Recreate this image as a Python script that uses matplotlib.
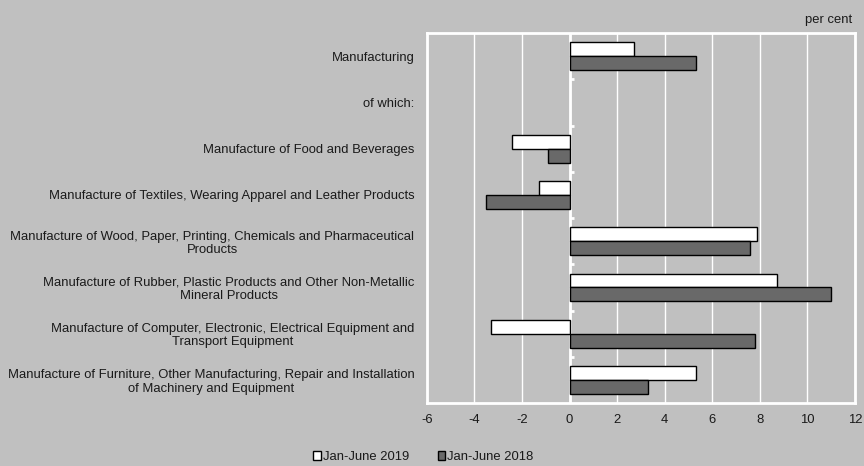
import matplotlib
matplotlib.use("Agg")
import matplotlib.pyplot as plt
import numpy as np
from matplotlib.patches import Patch

categories = [
    "Manufacturing",
    "of which:",
    "Manufacture of Food and Beverages",
    "Manufacture of Textiles, Wearing Apparel and Leather Products",
    "Manufacture of Wood, Paper, Printing, Chemicals and Pharmaceutical\nProducts",
    "Manufacture of Rubber, Plastic Products and Other Non-Metallic\nMineral Products",
    "Manufacture of Computer, Electronic, Electrical Equipment and\nTransport Equipment",
    "Manufacture of Furniture, Other Manufacturing, Repair and Installation\nof Machinery and Equipment",
]
jan_june_2019 = [2.7, np.nan, -2.4, -1.3, 7.9, 8.7, -3.3, 5.3]
jan_june_2018 = [5.3, np.nan, -0.9, -3.5, 7.6, 11.0, 7.8, 3.3]
xticks = [-6, -4, -2, 0, 2, 4, 6, 8, 10, 12]

plt.rcParams['font.family'] = ['Liberation Sans', 'DejaVu Sans']
plt.rcParams['axes.unicode_minus'] = False

BG = '#c0c0c0'
TXT = '#1a1a1a'
FS = 9.4
fig = plt.figure(figsize=(8.64, 4.66), dpi=100, facecolor=BG)
ax = fig.add_axes([0.494, 0.135, 0.4956, 0.794])
ax.set_facecolor(BG)

y = np.arange(len(categories))
h = 0.3
ax.barh(y - h / 2, jan_june_2019, height=h, color='white', edgecolor='black', linewidth=1.0, zorder=3, label='Jan-June 2019')
ax.barh(y + h / 2, jan_june_2018, height=h, color='#696969', edgecolor='black', linewidth=1.0, zorder=3, label='Jan-June 2018')

ax.set_xlim(-6, 12)
ax.set_ylim(len(categories) - 0.5, -0.5)
ax.set_xticks(xticks)
ax.set_xticklabels([str(t) for t in xticks], fontsize=FS, color=TXT)
ax.tick_params(axis='x', length=0, pad=8)
ax.set_yticks(y)
ax.set_yticklabels(categories, fontsize=FS, color=TXT, linespacing=1.12)
for lbl in ax.get_yticklabels():
    lbl.set_multialignment('center')
ax.tick_params(axis='y', length=0, pad=9)

ax.grid(axis='x', color='white', linewidth=1.0, zorder=1)
ax.grid(axis='y', visible=False)
for s in ax.spines.values():
    s.set_color('white')
    s.set_linewidth(2.0)
ax.axvline(0, color='white', linewidth=2.0, zorder=2)
# small tick marks on the zero axis at category boundaries
bounds = y[:-1] + 0.5
ax.plot(np.zeros_like(bounds), bounds, linestyle='none', marker=1, markersize=3,
        markeredgewidth=2, color='white', zorder=2)

fig.text(0.986, 0.957, 'per cent', ha='right', va='center', fontsize=FS, color=TXT)

handles = [Patch(facecolor='white', edgecolor='black', label='Jan-June 2019'),
           Patch(facecolor='#696969', edgecolor='black', label='Jan-June 2018')]
fig.legend(handles=handles, loc='center', bbox_to_anchor=(0.49, 0.019), ncol=2,
           frameon=False, fontsize=FS, handlelength=0.6, handleheight=0.6,
           handletextpad=0.15, columnspacing=2.2, labelcolor=TXT,
           borderpad=0.0)

fig.savefig('out.png', dpi=100, facecolor=BG)
